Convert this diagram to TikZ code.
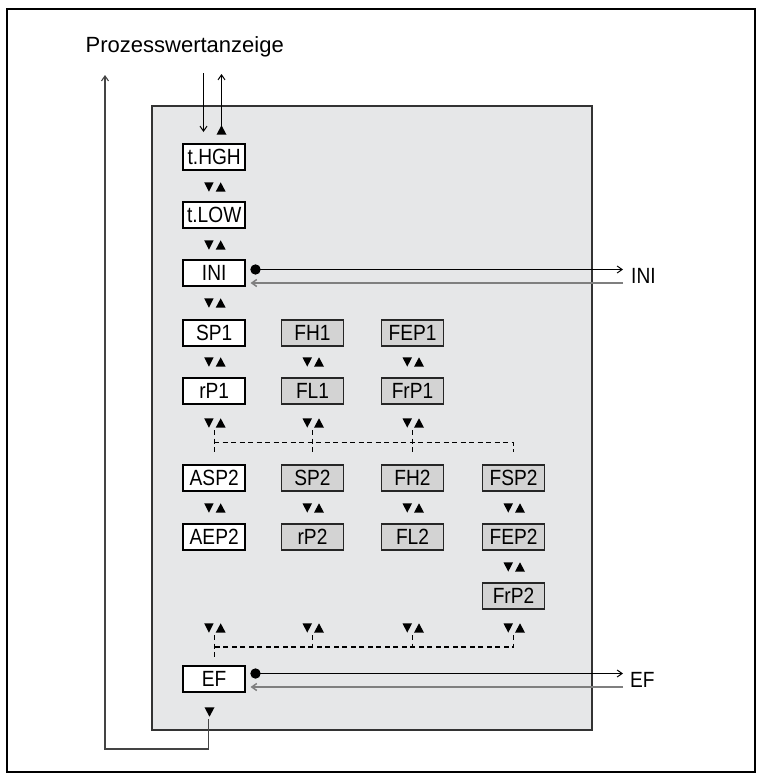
\documentclass[tikz,border=0pt]{standalone}
\usepackage{fontspec}
\setmainfont{Liberation Sans}
\newfontfamily\narrowfont[FakeStretch=0.87]{Liberation Sans}
\usetikzlibrary{arrows.meta}
\definecolor{panelgray}{HTML}{E6E7E8}
\definecolor{panelborder}{HTML}{333333}
\definecolor{boxgray}{HTML}{D3D3D3}
\definecolor{retgray}{HTML}{7F7F7F}
\definecolor{loopgray}{HTML}{444444}
\begin{document}
\begin{tikzpicture}[x=1pt,y=-1pt,
  boxw/.style={draw=black, line width=1.5pt, fill=white, minimum width=62pt, minimum height=26pt, inner sep=0pt, font=\narrowfont\fontsize{22}{22}\selectfont},
  boxg/.style={boxw, fill=boxgray, draw=black!85},
  lbl/.style={inner sep=0pt, anchor=base west, font=\narrowfont\fontsize{22}{22}\selectfont},
  dsh/.style={dash pattern=on 5pt off 3.5pt, line width=1.1pt},
  tip/.style={-{Straight Barb[length=5pt,width=7pt]}},
  updown/.pic={\fill (-10,-4.7) -- (-0.5,-4.7) -- (-5.25,4.7) -- cycle;
                \fill (1.5,4.7) -- (11.5,4.7) -- (6.5,-4.7) -- cycle;},
  downtri/.pic={\fill (-5,-4.7) -- (5,-4.7) -- (0,4.7) -- cycle;},
  uptri/.pic={\fill (-5,4.7) -- (5,4.7) -- (0,-4.7) -- cycle;}
]
\useasboundingbox (0,0) rectangle (757,774);
\draw[line width=1.8pt] (7,9) rectangle (755,772);
\draw[fill=panelgray, draw=panelborder, line width=1.4pt] (152,106) rectangle (592,730);

% column centres
\def\ca{214.2}\def\cb{312.5}\def\cc{412.5}\def\cd{513.5}

% title
\node[inner sep=0pt, anchor=base west, font=\fontsize{22}{22}\selectfont] (title) at (85.5,52) {Prozesswertanzeige};

% boxes
\node[boxw] (thgh) at (\ca,157) {t.HGH};
\node[boxw] (tlow) at (\ca,215) {t.LOW};
\node[boxw] (ini)  at (\ca,273) {INI};
\node[boxw] (sp1)  at (\ca,333) {SP1};
\node[boxg] (fh1)  at (\cb,333) {FH1};
\node[boxg] (fep1) at (\cc,333) {FEP1};
\node[boxw] (rp1)  at (\ca,391) {rP1};
\node[boxg] (fl1)  at (\cb,391) {FL1};
\node[boxg] (frp1) at (\cc,391) {FrP1};
\node[boxw] (asp2) at (\ca,478) {ASP2};
\node[boxg] (sp2)  at (\cb,478) {SP2};
\node[boxg] (fh2)  at (\cc,478) {FH2};
\node[boxg] (fsp2) at (\cd,478) {FSP2};
\node[boxw] (aep2) at (\ca,537) {AEP2};
\node[boxg] (rp2)  at (\cb,537) {rP2};
\node[boxg] (fl2)  at (\cc,537) {FL2};
\node[boxg] (fep2) at (\cd,537) {FEP2};
\node[boxg] (frp2) at (\cd,596) {FrP2};
\node[boxw] (ef)   at (\ca,679) {EF};

% triangles
\pic at (221.5,130) {uptri};
\pic at (\ca,187) {updown};
\pic at (\ca,245) {updown};
\pic at (\ca,303) {updown};
\foreach \c in {\ca,\cb,\cc} {\pic at (\c,362) {updown}; \pic at (\c,423) {updown};}
\foreach \c in {\ca,\cb,\cc,\cd} {\pic at (\c,508) {updown}; \pic at (\c,628) {updown};}
\pic at (\cd,567) {updown};
\pic at (209.5,712) {downtri};

% dashed distribution lines
\draw[dsh] (\ca,430) -- (\ca,452);
\draw[dsh] (\cb,430) -- (\cb,452);
\draw[dsh] (\cc,430) -- (\cc,452);
\draw[dsh] (\ca,442.5) -- (\cd,442.5) -- (\cd,452);
\draw[dsh] (\ca,635) -- (\ca,659);
\draw[dsh] (\cb,635) -- (\cb,647);
\draw[dsh] (\cc,635) -- (\cc,647);
\draw[dsh] (\cd,635) -- (\cd,647) -- (\ca,647);

% top arrows
\coordinate (inTop) at (203.5,73);
\coordinate (inBot) at (203.5,132);
\coordinate (outBot) at (221.5,126);
\coordinate (outTop) at (221.5,74);
\draw[tip, line width=1pt] (inTop) -- (inBot);
\draw[tip, line width=1pt] (outBot) -- (outTop);

% INI side connectors
\coordinate (inidot) at (255.5,269.5);
\coordinate (iniout) at (623,269.5);
\coordinate (iniret) at (623,283);
\coordinate (iniin) at (250.5,283);
\fill (inidot) circle (5.2pt);
\draw[tip, line width=1pt] (inidot) -- (iniout);
\draw[tip, line width=1.5pt, draw=retgray] (iniret) -- (iniin);
\node[lbl] (inilbl) at (631,283.5) {INI};

% EF side connectors
\coordinate (efdot) at (255.5,673.5);
\coordinate (efout) at (623,673.5);
\coordinate (efret) at (623,687);
\coordinate (efin) at (250.5,687);
\fill (efdot) circle (5.2pt);
\draw[tip, line width=1pt] (efdot) -- (efout);
\draw[tip, line width=1.5pt, draw=retgray] (efret) -- (efin);
\node[lbl] (eflbl) at (630,687.5) {EF};

% return loop
\coordinate (loopstart) at (208.7,719);
\coordinate (loopend) at (105,75);
\draw[tip, line width=1.1pt, draw=loopgray] (loopstart) -- (208.7,749) -- (105,749) -- (loopend);
\end{tikzpicture}
\end{document}
